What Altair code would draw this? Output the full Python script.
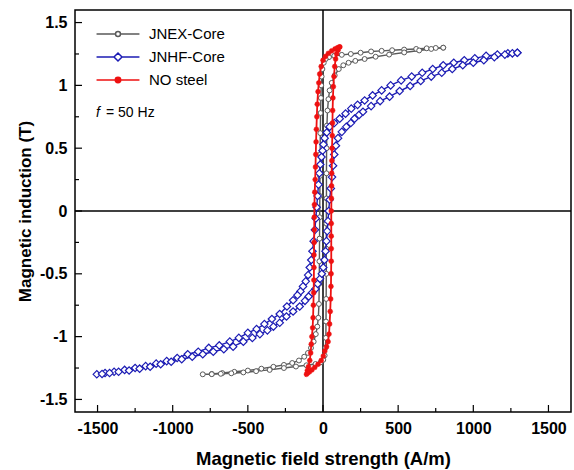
import altair as alt
import pandas as pd

FONT = "Liberation Sans"

series_names = ["JNEX-Core", "JNHF-Core", "NO steel"]
line_colors = ["#5a5a5a", "#1c1cb4", "#ee1111"]
marker_fills = ["white", "white", "#ee1111"]

x_major = [-1500, -1000, -500, 0, 500, 1000, 1500]
x_minor = [-1250, -750, -250, 250, 750, 1250]
y_major = [-1.5, -1, -0.5, 0, 0.5, 1, 1.5]
y_minor = [-1.25, -0.75, -0.25, 0.25, 0.75, 1.25]

# JNEX-Core (grey, open circles)
jnex_desc_h = [800, 750, 690, 620, 540, 460, 390, 320, 250, 185, 125, 75, 40, 18, 5, -4, -9, -12, -14, -16,
               -18, -19, -20, -21, -22, -23, -24, -25, -27, -31, -38, -48, -62, -80, -100, -125, -160, -205,
               -260, -330, -410, -500, -590, -670, -740, -800]
jnex_desc_b = [1.30, 1.298, 1.295, 1.29, 1.285, 1.28, 1.275, 1.27, 1.26, 1.25, 1.243, 1.235, 1.225, 1.21, 1.18,
               1.13, 1.07, 1.00, 0.90, 0.78, 0.62, 0.45, 0.28, 0.12, -0.05, -0.22, -0.40, -0.58, -0.74, -0.85,
               -0.92, -0.98, -1.04, -1.09, -1.13, -1.16, -1.19, -1.21, -1.225, -1.24, -1.255, -1.27, -1.28,
               -1.29, -1.297, -1.30]
jnex_asc_h = [-800, -740, -680, -610, -530, -445, -355, -260, -180, -110, -50, -15, 2, 11, 16, 19, 20, 21, 22,
              22, 22, 23, 23, 24, 26, 30, 36, 44, 58, 78, 105, 135, 170, 215, 277, 350, 440, 540, 640, 720, 800]
jnex_asc_b = [-1.30, -1.299, -1.296, -1.292, -1.285, -1.275, -1.265, -1.25, -1.238, -1.228, -1.218, -1.205,
              -1.185, -1.15, -1.09, -1.01, -0.88, -0.70, -0.50, -0.30, -0.10, 0.10, 0.30, 0.50, 0.68, 0.80, 0.89,
              0.96, 1.02, 1.08, 1.13, 1.16, 1.18, 1.195, 1.21, 1.228, 1.245, 1.262, 1.278, 1.29, 1.30]

# JNHF-Core (blue, open diamonds)
jnhf_desc_h = [1293, 1230, 1160, 1085, 1010, 940, 870, 800, 730, 660, 590, 520, 450, 390, 330, 277, 230, 188,
               150, 111, 75, 44, 25, 11, 3, -3, -10, -18, -24, -30, -36, -42, -48, -54, -62, -70, -78, -88, -99,
               -115, -133, -150, -170, -199, -240, -288, -340, -390, -442, -500, -560, -620, -690, -760, -830,
               -900, -970, -1040, -1110, -1180, -1250, -1320, -1390, -1450, -1505]
jnhf_desc_b = [1.26, 1.255, 1.245, 1.235, 1.215, 1.20, 1.18, 1.16, 1.13, 1.10, 1.07, 1.04, 1.00, 0.96, 0.92,
               0.88, 0.845, 0.815, 0.775, 0.735, 0.70, 0.67, 0.625, 0.58, 0.53, 0.48, 0.43, 0.37, 0.30, 0.21,
               0.12, 0.03, -0.06, -0.15, -0.24, -0.32, -0.39, -0.45, -0.51, -0.56, -0.60, -0.64, -0.67, -0.71,
               -0.76, -0.82, -0.86, -0.90, -0.94, -0.97, -1.01, -1.04, -1.07, -1.09, -1.12, -1.14, -1.17,
               -1.195, -1.215, -1.235, -1.25, -1.265, -1.28, -1.29, -1.30]
jnhf_asc_h = [-1505, -1470, -1420, -1360, -1290, -1220, -1150, -1080, -1010, -940, -870, -800, -730, -660,
              -598, -530, -470, -420, -370, -330, -288, -243, -199, -155, -120, -95, -72, -50, -35, -20, -8, 2,
              10, 17, 23, 28, 33, 38, 44, 52, 60, 67, 75, 86, 100, 125, 155, 185, 210, 240, 266, 320, 380, 443,
              510, 580, 650, 720, 790, 860, 930, 1000, 1070, 1140, 1210, 1260, 1293]
jnhf_asc_b = [-1.30, -1.297, -1.29, -1.28, -1.27, -1.255, -1.24, -1.22, -1.20, -1.18, -1.16, -1.14, -1.12,
              -1.10, -1.08, -1.04, -1.01, -0.98, -0.95, -0.92, -0.89, -0.84, -0.80, -0.76, -0.715, -0.68,
              -0.65, -0.62, -0.58, -0.54, -0.50, -0.45, -0.39, -0.32, -0.24, -0.16, -0.08, 0.0, 0.09, 0.18,
              0.27, 0.36, 0.45, 0.52, 0.58, 0.63, 0.67, 0.70, 0.735, 0.765, 0.79, 0.835, 0.875, 0.91, 0.955,
              0.995, 1.035, 1.07, 1.10, 1.13, 1.16, 1.18, 1.20, 1.225, 1.245, 1.255, 1.26]

# NO steel (red, filled circles)
no_desc_h = [111, 97, 80, 58, 36, 16, 0, -12, -22, -28, -33, -38, -41, -44, -46, -48, -50, -52, -55, -57, -58,
             -58, -59, -60, -60, -61, -62, -64, -66, -69, -74, -78, -82, -88, -97, -104, -110]
no_desc_b = [1.306, 1.30, 1.29, 1.275, 1.255, 1.23, 1.20, 1.15, 1.09, 1.02, 0.95, 0.85, 0.75, 0.65, 0.55,
             0.45, 0.35, 0.25, 0.15, 0.05, -0.05, -0.15, -0.25, -0.35, -0.45, -0.55, -0.65, -0.75, -0.85,
             -0.93, -1.00, -1.06, -1.13, -1.19, -1.24, -1.27, -1.30]
no_asc_h = [-110, -102, -90, -74, -55, -33, -12, 2, 12, 24, 34, 40, 44, 48, 51, 53, 54, 55, 55, 55, 55, 55, 56,
            57, 58, 59, 60, 62, 63, 64, 66, 69, 73, 78, 84, 91, 100, 111]
no_asc_b = [-1.30, -1.29, -1.28, -1.265, -1.245, -1.22, -1.19, -1.155, -1.115, -1.08, -1.04, -0.98, -0.90,
            -0.80, -0.70, -0.60, -0.50, -0.40, -0.30, -0.20, -0.10, 0.0, 0.10, 0.20, 0.30, 0.40, 0.50, 0.60,
            0.70, 0.80, 0.90, 0.99, 1.07, 1.15, 1.21, 1.25, 1.28, 1.306]

# legend symbols: line segment with marker (unit box -1..1 = 26 px)
legend_paths = [
    "M-1.65,0H-0.19M0.19,0H1.65M0.19,0A0.19,0.19,0,1,1,-0.19,0A0.19,0.19,0,1,1,0.19,0Z",
    "M-1.65,0H-0.31M0.31,0H1.65M0.31,0L0,-0.31L-0.31,0L0,0.31Z",
    "M-1.65,0H1.65M0.21,0A0.21,0.21,0,1,1,-0.21,0A0.21,0.21,0,1,1,0.21,0Z",
]


def loop_frame(desc_h, desc_b, asc_h, asc_b):
    hs = list(desc_h) + list(asc_h[1:])
    bs = list(desc_b) + list(asc_b[1:])
    return pd.DataFrame({"idx": list(range(len(hs))), "H": hs, "B": bs})


jnex = loop_frame(jnex_desc_h, jnex_desc_b, jnex_asc_h, jnex_asc_b)
jnhf = loop_frame(jnhf_desc_h, jnhf_desc_b, jnhf_asc_h, jnhf_asc_b)
nos = loop_frame(no_desc_h, no_desc_b, no_asc_h, no_asc_b)

xs = alt.Scale(domain=[-1650, 1650], nice=False, zero=False)
ys = alt.Scale(domain=[-1.6, 1.6], nice=False, zero=False)

xaxis = alt.Axis(values=x_major, labelExpr="'' + datum.value", title="Magnetic field strength (A/m)",
                 ticks=False, domain=False, grid=False, labelFont=FONT, labelFontSize=16,
                 labelFontWeight="bold", labelColor="black", labelPadding=8, labelOverlap=False,
                 titleFont=FONT, titleFontSize=18.5, titleFontWeight="bold", titleColor="black",
                 titleX=248, titleY=46, titleBaseline="middle", titleAlign="center")
yaxis = alt.Axis(values=y_major, labelExpr="'' + datum.value", title="Magnetic induction (T)",
                 ticks=False, domain=False, grid=False, labelFont=FONT, labelFontSize=16,
                 labelFontWeight="bold", labelColor="black", labelPadding=8, labelOverlap=False,
                 titleFont=FONT, titleFontSize=17, titleFontWeight="bold", titleColor="black",
                 titleAngle=270, titleX=-50, titleY=201, titleBaseline="middle", titleAlign="center")

X = alt.X("H:Q", scale=xs, axis=xaxis)
Y = alt.Y("B:Q", scale=ys, axis=yaxis)

W, HGT = 496, 402

zero_v = alt.Chart(pd.DataFrame({"H": [0]})).mark_rule(color="black", strokeWidth=1.5).encode(x=X)
zero_h = alt.Chart(pd.DataFrame({"B": [0]})).mark_rule(color="black", strokeWidth=1.5).encode(y=Y)

xt_major = alt.Chart(pd.DataFrame({"H": x_major})).mark_rule(color="black", strokeWidth=1.2).encode(
    x=X, y=alt.value(HGT), y2=alt.value(HGT - 7))
xt_minor = alt.Chart(pd.DataFrame({"H": x_minor})).mark_rule(color="black", strokeWidth=1.2).encode(
    x=X, y=alt.value(HGT), y2=alt.value(HGT - 4))
yt_major = alt.Chart(pd.DataFrame({"B": y_major})).mark_rule(color="black", strokeWidth=1.2).encode(
    y=Y, x=alt.value(0), x2=alt.value(7))
yt_minor = alt.Chart(pd.DataFrame({"B": y_minor})).mark_rule(color="black", strokeWidth=1.2).encode(
    y=Y, x=alt.value(0), x2=alt.value(4))


def line_layer(df, color, width):
    return alt.Chart(df).mark_line(color=color, strokeWidth=width).encode(x=X, y=Y, order=alt.Order("idx:Q"))


jnex_line = line_layer(jnex, line_colors[0], 1.4)
jnex_pts = alt.Chart(jnex).mark_point(shape="circle", filled=True, fill="white", stroke=line_colors[0],
                                      strokeWidth=1, size=24, opacity=1).encode(x=X, y=Y)
jnhf_line = line_layer(jnhf, line_colors[1], 1.4)
jnhf_pts = alt.Chart(jnhf).mark_point(shape="diamond", filled=True, fill="white", stroke=line_colors[1],
                                      strokeWidth=1.2, size=55, opacity=1).encode(x=X, y=Y)
no_line = line_layer(nos, line_colors[2], 1.8)
no_pts = alt.Chart(nos).mark_point(shape="circle", filled=True, fill=line_colors[2], stroke=line_colors[2],
                                   strokeWidth=0.5, size=24, opacity=1).encode(x=X, y=Y)

leg = alt.Legend(title=None, orient="none", legendX=29, legendY=10, labelFont=FONT, labelFontSize=15,
                 labelColor="black", symbolSize=676, symbolStrokeWidth=1.5, labelOffset=17, rowPadding=1,
                 padding=0, symbolOpacity=1)
legend_layer = alt.Chart(pd.DataFrame({"series": series_names})).transform_filter("false").mark_point(
    opacity=1, strokeWidth=1.5).encode(
    stroke=alt.Stroke("series:N", scale=alt.Scale(domain=series_names, range=line_colors), legend=leg),
    fill=alt.Fill("series:N", scale=alt.Scale(domain=series_names, range=marker_fills), legend=leg),
    shape=alt.Shape("series:N", scale=alt.Scale(domain=series_names, range=legend_paths), legend=leg),
)

f_text = alt.Chart(pd.DataFrame({"t": ["f"]})).mark_text(
    font=FONT, fontSize=14, fontStyle="italic", align="left", baseline="middle", color="black").encode(
    text="t:N", x=alt.value(21), y=alt.value(103))
hz_text = alt.Chart(pd.DataFrame({"t": ["= 50 Hz"]})).mark_text(
    font=FONT, fontSize=14, align="left", baseline="middle", color="black").encode(
    text="t:N", x=alt.value(31), y=alt.value(103))

chart = alt.layer(
    zero_v, zero_h, xt_major, xt_minor, yt_major, yt_minor,
    jnex_line, jnex_pts, jnhf_line, jnhf_pts, no_line, no_pts,
    legend_layer, f_text, hz_text,
).properties(
    width=W, height=HGT,
    padding={"left": 75, "top": 10, "right": 3, "bottom": 58},
    autosize=alt.AutoSizeParams(type="none"),
).configure_view(stroke="black", strokeWidth=1.5)

chart.save("out.html", embed_options={"renderer": "svg", "actions": False})
